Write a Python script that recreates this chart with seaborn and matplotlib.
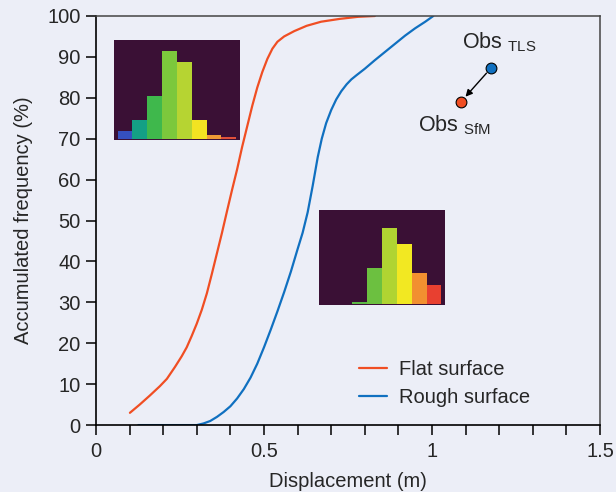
import numpy as np
import pandas as pd
import matplotlib
matplotlib.use("Agg")
import matplotlib.pyplot as plt
import seaborn as sns

# curvas de frecuencia acumulada
flat_x = [0.101, 0.13, 0.16, 0.19, 0.211, 0.235, 0.255, 0.27, 0.285, 0.30, 0.315, 0.33,
          0.345, 0.36, 0.375, 0.39, 0.405, 0.42, 0.435, 0.45, 0.465, 0.48, 0.495, 0.51,
          0.525, 0.54, 0.56, 0.59, 0.627, 0.67, 0.726, 0.78, 0.83]
flat_y = [3.0, 5.0, 7.2, 9.5, 11.3, 14.2, 16.8, 19.0, 21.8, 24.8, 28.2, 32.2,
          37.0, 42.0, 47.0, 52.3, 57.5, 62.5, 68.0, 73.0, 78.0, 82.5, 86.3, 89.5,
          92.0, 93.7, 95.0, 96.3, 97.6, 98.6, 99.3, 99.8, 100]

rough_x = [0.126, 0.30, 0.32, 0.34, 0.36, 0.38, 0.40, 0.42, 0.44, 0.46, 0.48, 0.50,
           0.52, 0.54, 0.56, 0.58, 0.60, 0.615, 0.63, 0.645, 0.66, 0.672, 0.685, 0.70,
           0.715, 0.73, 0.746, 0.76, 0.775, 0.80, 0.83, 0.86, 0.89, 0.92, 0.95, 0.98, 1.004]
rough_y = [0, 0, 0.4, 1.0, 2.0, 3.2, 4.6, 6.5, 8.8, 11.6, 15.0, 19.0,
           23.3, 27.8, 32.5, 37.5, 43.0, 47.0, 52.0, 58.5, 65.5, 70.0, 73.8, 77.0,
           79.6, 81.6, 83.3, 84.5, 85.5, 87.1, 89.2, 91.2, 93.2, 95.2, 97.0, 98.6, 100]

# observaciones
obs_tls = (1.176, 87.3)
obs_sfm = (1.086, 79.0)

# histogramas de las imágenes insertadas
hist_bins = [0, 1, 2, 3, 4, 5, 6, 7]
hist1_vals = [22, 55, 127, 262, 230, 55, 10, 5]
hist1_colors = ["#3550c0", "#14a085", "#3fb84c", "#7cc83c", "#b6d432", "#f2e322", "#ef9a35", "#e0503a"]
hist2_vals = [0, 0, 6, 113, 240, 188, 98, 58]
hist2_colors = ["#3a1035", "#3a1035", "#5cb845", "#6cc040", "#b0d432", "#f2e822", "#f29030", "#e84030"]

bg = "#eceef7"
red = "#f04e23"
blue = "#1070c0"

sns.set_theme(style="ticks")
plt.rcParams["font.family"] = ["Liberation Sans", "DejaVu Sans"]
plt.rcParams["axes.facecolor"] = bg
plt.rcParams["figure.facecolor"] = bg

fig = plt.figure(figsize=(6.16, 4.92), dpi=100)
ax = fig.add_axes([0.1558, 0.136, 0.8182, 0.8315])

df_flat = pd.DataFrame({"x": flat_x, "y": flat_y})
df_rough = pd.DataFrame({"x": rough_x, "y": rough_y})
sns.lineplot(data=df_flat, x="x", y="y", color=red, lw=1.6, ax=ax, label="Flat surface")
sns.lineplot(data=df_rough, x="x", y="y", color=blue, lw=1.6, ax=ax, label="Rough surface")

ax.annotate("", xy=obs_sfm, xytext=obs_tls,
            arrowprops=dict(arrowstyle="-|>", color="black", lw=1.0,
                            shrinkA=5, shrinkB=5, mutation_scale=10))
ax.scatter([obs_tls[0]], [obs_tls[1]], s=60, color=blue, edgecolor="black", lw=0.8, zorder=5)
ax.scatter([obs_sfm[0]], [obs_sfm[1]], s=60, color=red, edgecolor="black", lw=0.8, zorder=5)
ax.text(obs_tls[0] + 0.025, obs_tls[1] + 3.3, r"Obs $_\mathregular{TLS}$", fontsize=15.5,
        ha="center", va="bottom")
ax.text(obs_sfm[0] - 0.018, obs_sfm[1] - 2.8, r"Obs $_\mathregular{SfM}$", fontsize=15.5,
        ha="center", va="top")

ax.set_xlim(0, 1.5)
ax.set_ylim(0, 100)
ax.set_xticks([0, 0.5, 1, 1.5])
ax.set_xticklabels(["0", "0.5", "1", "1.5"])
ax.set_xticks(np.arange(0, 1.51, 0.1), minor=True)
ax.set_yticks(np.arange(0, 101, 10))
ax.tick_params(axis="both", which="both", direction="out", length=7, width=1.1,
               color="black", labelsize=14.5)
ax.tick_params(axis="x", pad=5)
ax.tick_params(axis="y", pad=4)
ax.set_xlabel("Displacement (m)", fontsize=14.5, labelpad=8)
ax.set_ylabel("Accumulated frequency (%)", fontsize=14.5, labelpad=10)
for s in ["left", "bottom"]:
    ax.spines[s].set_color("black")
    ax.spines[s].set_linewidth(1.2)
for s in ["top", "right"]:
    ax.spines[s].set_color("#444444")
    ax.spines[s].set_linewidth(1.1)

ax.legend(loc="lower left", bbox_to_anchor=(0.506, 0.025), borderaxespad=0, frameon=False,
          fontsize=14.5, handlelength=1.4, handletextpad=0.6, labelspacing=0.45)

# imágenes insertadas con histogramas
for rect, vals, cols in [([0.185, 0.7154, 0.2045, 0.203], hist1_vals, hist1_colors),
                         ([0.518, 0.380, 0.2045, 0.193], hist2_vals, hist2_colors)]:
    ins = fig.add_axes(rect)
    ins.set_facecolor("#3a1035")
    dfh = pd.DataFrame({"b": hist_bins, "v": vals})
    sns.barplot(data=dfh, x="b", y="v", hue="b", palette=cols, legend=False,
                width=1.0, saturation=1, ax=ins, linewidth=0)
    ins.set_xlim(-0.75, 7.75)
    ins.set_ylim(-4, 295)
    ins.set_xticks([])
    ins.set_yticks([])
    ins.set_xlabel("")
    ins.set_ylabel("")
    for s in ins.spines.values():
        s.set_visible(False)

fig.savefig("out.png", dpi=100, facecolor=bg)
